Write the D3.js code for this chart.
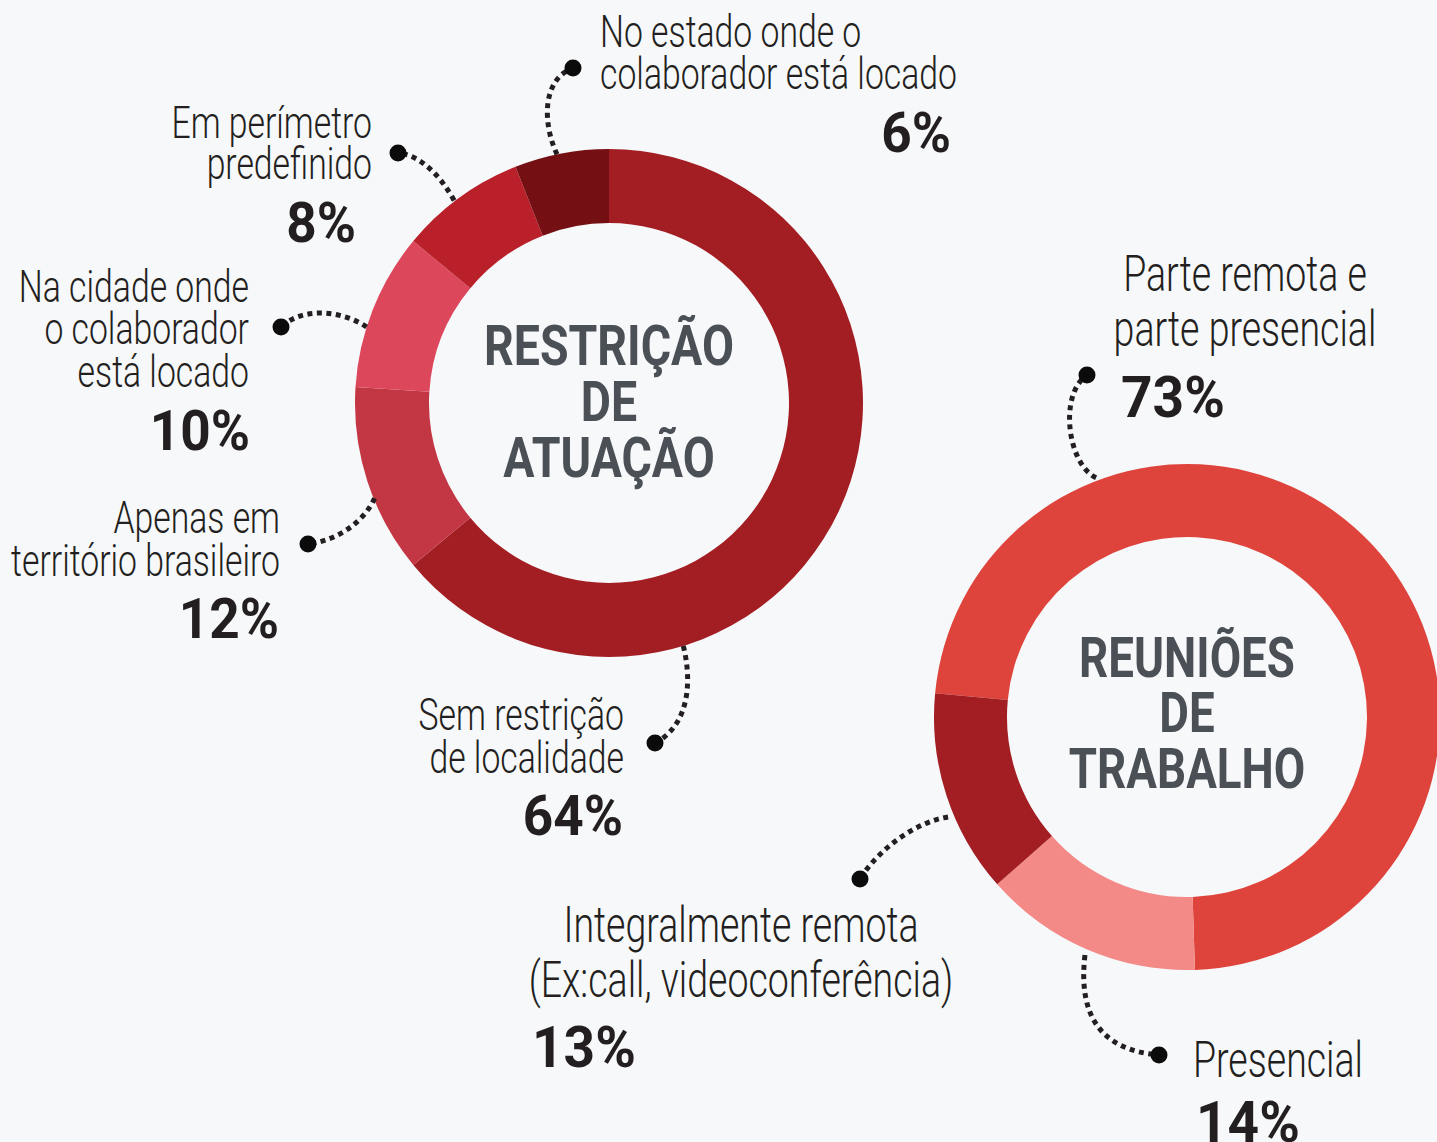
<!DOCTYPE html>
<html>
<head>
<meta charset="utf-8">
<script src="https://cdn.jsdelivr.net/npm/d3@7"></script>
<style>
  html, body { margin: 0; padding: 0; background: #F7F8FA; }
  svg { display: block; }
</style>
</head>
<body>
<div id="chart"></div>
<script>
// ---------- DATA ----------
const restricaoTitle = ["RESTRIÇÃO", "DE", "ATUAÇÃO"];
const restricaoCategories = [
  ["Sem restrição", "de localidade"],
  ["Apenas em", "território brasileiro"],
  ["Na cidade onde", "o colaborador", "está locado"],
  ["Em perímetro", "predefinido"],
  ["No estado onde o", "colaborador está locado"]
];
const restricaoValues = [64, 12, 10, 8, 6];
const restricaoColors = ["#A31E23", "#C33745", "#DD475C", "#B92029", "#741014"];

const reunioesTitle = ["REUNIÕES", "DE", "TRABALHO"];
const reunioesCategories = [
  ["Parte remota e", "parte presencial"],
  ["Presencial"],
  ["Integralmente remota", "(Ex:call, videoconferência)"]
];
const reunioesValues = [73, 14, 13];
const reunioesColors = ["#DE443C", "#F38A87", "#A31E23"];

// ---------- LAYOUT ----------
const W = 1437, H = 1142;
const LIGHT_SX = 0.75, BOLD_SX = 0.95, TITLE_SX = 0.83;
const textColor = "#231F20", titleColor = "#4B5057";
const lightFont = "'Roboto Light', Roboto, 'Liberation Sans', sans-serif";
const boldFont = "Roboto, 'Liberation Sans', sans-serif";

const charts = [
  {
    values: restricaoValues, cats: restricaoCategories, colors: restricaoColors, title: restricaoTitle,
    cx: 609, cy: 403, R: 254, r: 180, start: 0,
    titleY: 365, titleLH: 56, titleSize: 56,
    labelSize: 45, pctSize: 56,
    layout: [
      { anchor: "end", x: 624, y: 730, lh: 43, px: 623, py: 835, pa: "end",
        leader: { a: 163, rr: 254, c1: [692, 680], c2: [690, 725], dot: [655, 743] } },
      { anchor: "end", x: 280, y: 533, lh: 43, px: 279, py: 638, pa: "end",
        leader: { a: -112.1, rr: 253, c1: [365, 520], c2: [340, 540], dot: [308, 544] } },
      { anchor: "end", x: 249, y: 302, lh: 42.5, px: 250, py: 450, pa: "end",
        leader: { a: -72.6, rr: 254, c1: [345, 312], c2: [305, 305], dot: [281, 327] } },
      { anchor: "end", x: 372, y: 138, lh: 41, px: 356, py: 242, pa: "end",
        leader: { a: -37.4, rr: 255, c1: [440, 175], c2: [420, 155], dot: [398, 153] } },
      { anchor: "start", x: 600, y: 47, lh: 42, px: 951, py: 152, pa: "end",
        leader: { a: -11.8, rr: 254, c1: [543, 125], c2: [541, 80], dot: [573, 68] } }
    ]
  },
  {
    values: reunioesValues, cats: reunioesCategories, colors: reunioesColors, title: reunioesTitle,
    cx: 1187, cy: 717, R: 253, r: 180, start: -84.6,
    titleY: 677, titleLH: 55.5, titleSize: 55,
    labelSize: 50, pctSize: 58,
    layout: [
      { anchor: "middle", x: 1245, y: 291, lh: 55, px: 1121, py: 417, pa: "start",
        leader: { a: -20.8, rr: 256, c1: [1068, 465], c2: [1058, 395], dot: [1087, 375] } },
      { anchor: "start", x: 1193, y: 1077, lh: 55, px: 1196, py: 1142, pa: "start",
        leader: { a: 203.2, rr: 259, c1: [1078, 1015], c2: [1100, 1050], dot: [1159, 1055] } },
      { anchor: "middle", x: 741, y: 942, lh: 55, px: 532, py: 1067, pa: "start",
        leader: { a: -112.7, rr: 259, c1: [915, 822], c2: [878, 850], dot: [860, 879] } }
    ]
  }
];

const svg = d3.select("#chart").append("svg")
  .attr("width", W).attr("height", H)
  .attr("viewBox", `0 0 ${W} ${H}`);

svg.append("rect").attr("width", W).attr("height", H).attr("fill", "#F7F8FA");

const rad = d => d * Math.PI / 180;

charts.forEach(ch => {
  const pie = d3.pie().sort(null).value(d => d)
    .startAngle(rad(ch.start)).endAngle(rad(ch.start) + 2 * Math.PI);
  const arc = d3.arc().innerRadius(ch.r).outerRadius(ch.R);
  const arcs = pie(ch.values);

  const g = svg.append("g").attr("transform", `translate(${ch.cx},${ch.cy})`);
  g.selectAll("path.slice").data(arcs).join("path")
    .attr("class", "slice")
    .attr("d", arc)
    .attr("fill", (d, i) => ch.colors[i]);

  // center title
  const tg = svg.append("g").attr("transform", `translate(${ch.cx},${ch.titleY}) scale(${TITLE_SX},1)`);
  const tt = tg.append("text")
    .attr("text-anchor", "middle")
    .attr("font-family", boldFont)
    .attr("font-weight", 700)
    .attr("font-size", ch.titleSize)
    .attr("fill", titleColor);
  ch.title.forEach((line, i) => {
    tt.append("tspan").attr("x", 0).attr("y", i * ch.titleLH).text(line);
  });

  // leaders, dots, labels
  ch.values.forEach((v, i) => {
    const L = ch.layout[i];
    const ld = L.leader;
    const sx = ch.cx + ld.rr * Math.sin(rad(ld.a));
    const sy = ch.cy - ld.rr * Math.cos(rad(ld.a));
    const p = d3.path();
    p.moveTo(sx, sy);
    p.bezierCurveTo(ld.c1[0], ld.c1[1], ld.c2[0], ld.c2[1], ld.dot[0], ld.dot[1]);
    svg.append("path")
      .attr("d", p.toString())
      .attr("fill", "none")
      .attr("stroke", textColor)
      .attr("stroke-width", 5)
      .attr("stroke-dasharray", "5 4.5");
    svg.append("circle")
      .attr("cx", ld.dot[0]).attr("cy", ld.dot[1]).attr("r", 8.5)
      .attr("fill", "#0B0B0C");

    const lg = svg.append("g").attr("transform", `translate(${L.x},${L.y}) scale(${LIGHT_SX},1)`);
    const lt = lg.append("text")
      .attr("text-anchor", L.anchor)
      .attr("font-family", lightFont)
      .attr("font-weight", 300)
      .attr("font-size", ch.labelSize)
      .attr("fill", textColor);
    ch.cats[i].forEach((line, j) => {
      lt.append("tspan").attr("x", 0).attr("y", j * L.lh).text(line);
    });

    svg.append("g").attr("transform", `translate(${L.px},${L.py}) scale(${BOLD_SX},1)`)
      .append("text")
      .attr("text-anchor", L.pa)
      .attr("font-family", boldFont)
      .attr("font-weight", 700)
      .attr("font-size", ch.pctSize)
      .attr("fill", textColor)
      .text(v + "%");
  });
});
</script>
</body>
</html>
